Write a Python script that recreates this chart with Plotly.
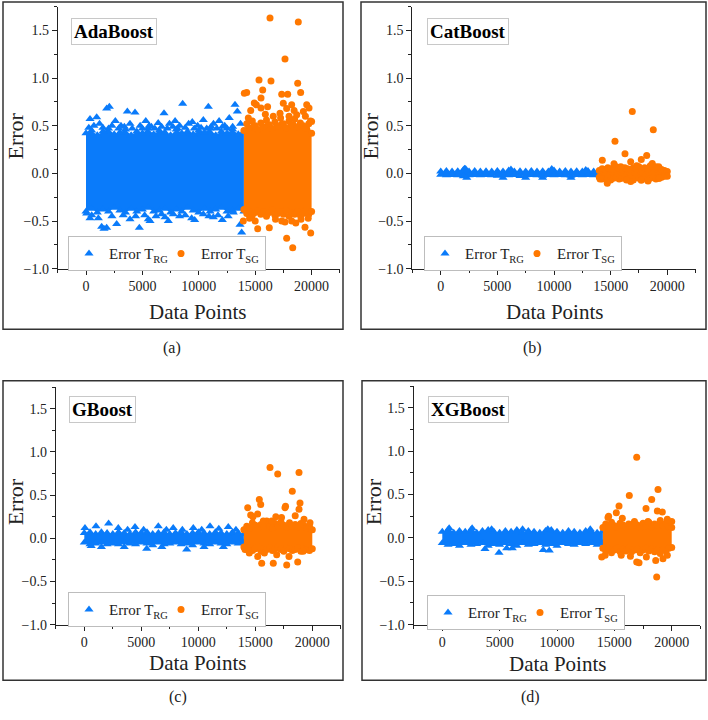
import plotly.graph_objects as go

W, H = 708, 720
BLUE = "#0A7BFA"
ORANGE = "#FF7800"
FONT = "Liberation Serif"

# ---------------- data ----------------
TRG_X = [0, 500, 1000, 1500, 2000, 2500, 3000, 3500, 4000, 4500, 5000, 5500, 6000, 6500,
         7000, 7500, 8000, 8500, 9000, 9500, 10000, 10500, 11000, 11500, 12000, 12500,
         13000, 13500, 14000]
TSG_X = [14000, 14250, 14500, 14750, 15000, 15250, 15500, 15750, 16000, 16250, 16500,
         16750, 17000, 17250, 17500, 17750, 18000, 18250, 18500, 18750, 19000, 19250,
         19500, 19750, 20000]
X_TICKS = [0, 5000, 10000, 15000, 20000]
X_TICK_TEXT = ["0", "5000", "10000", "15000", "20000"]
Y_TICKS = [-1.0, -0.5, 0.0, 0.5, 1.0, 1.5]
Y_TICK_TEXT = ["\u22121.0", "\u22120.5", "0.0", "0.5", "1.0", "1.5"]
MODELS = ["AdaBoost", "CatBoost", "GBoost", "XGBoost"]
CAPTIONS = ["(a)", "(b)", "(c)", "(d)"]
LEGEND_NAMES = ["Error T<sub>RG</sub>", "Error T<sub>SG</sub>"]

# AdaBoost
ADA_TRG_HI = [0.42, 0.45, 0.40, 0.44, 0.47, 0.41, 0.43, 0.46, 0.40, 0.44, 0.42, 0.47, 0.41, 0.45,
              0.43, 0.40, 0.46, 0.42, 0.44, 0.41, 0.45, 0.43, 0.47, 0.40, 0.44, 0.42, 0.46, 0.41, 0.44]
ADA_TRG_LO = [-0.40, -0.37, -0.41, -0.38, -0.40, -0.36, -0.39, -0.41, -0.37, -0.40, -0.38, -0.36,
              -0.40, -0.39, -0.37, -0.41, -0.38, -0.40, -0.36, -0.39, -0.41, -0.37, -0.40, -0.38,
              -0.36, -0.40, -0.39, -0.37, -0.40]
ADA_TRG_OUT_X = [355, 948, 1835, 2070, 1200, 2600, 3100, 3665, 4344, 3900, 4800, 5300, 5800, 6400,
                 6915, 7400, 7900, 8300, 8570, 9100, 9424, 9900, 10400, 10845, 11300, 11800, 12300,
                 12700, 13209, 13416, 13700, 250, 700, 1500, 2300, 2900, 3400, 4100, 5000, 5600,
                 6100, 6700, 7200, 7700, 8100, 8800, 9600, 10200, 10700, 11100, 11600, 12100,
                 12500, 13000,
                 59, 355, 505, 1094, 1389, 1596, 1832, 2300, 2719, 3300, 3900, 4400, 4728, 5200,
                 5526, 5674, 6200, 6700, 7004, 7297, 7742, 8300, 8800, 9368, 9636, 10402, 10900,
                 11288, 11700, 12084, 12600, 13062, 13652, 13800]
ADA_TRG_OUT_Y = [0.57, 0.59, 0.68, 0.70, 0.52, 0.55, 0.50, 0.65, 0.64, 0.52, 0.50, 0.55, 0.49, 0.53,
                 0.63, 0.52, 0.55, 0.50, 0.73, 0.52, 0.54, 0.50, 0.56, 0.70, 0.52, 0.55, 0.50,
                 0.58, 0.72, 0.65, 0.52, 0.48, 0.50, 0.48, 0.50, 0.47, 0.49, 0.47, 0.47, 0.50,
                 0.47, 0.49, 0.47, 0.49, 0.47, 0.48, 0.47, 0.48, 0.47, 0.49, 0.47, 0.49,
                 0.47, 0.49,
                 -0.42, -0.47, -0.44, -0.47, -0.56, -0.58, -0.57, -0.45, -0.53, -0.44, -0.48, -0.45,
                 -0.57, -0.44, -0.48, -0.50, -0.45, -0.43, -0.46, -0.50, -0.43, -0.45, -0.44, -0.47,
                 -0.49, -0.43, -0.45, -0.46, -0.44, -0.49, -0.45, -0.41, -0.54, -0.62]
ADA_TSG_HI = [0.45, 0.52, 0.48, 0.55, 0.50, 0.46, 0.53, 0.49, 0.56, 0.51, 0.47, 0.54, 0.50, 0.58,
              0.52, 0.48, 0.55, 0.51, 0.57, 0.49, 0.53, 0.50, 0.47, 0.52, 0.42]
ADA_TSG_LO = [-0.38, -0.42, -0.40, -0.44, -0.41, -0.39, -0.43, -0.40, -0.45, -0.41, -0.38, -0.44,
              -0.42, -0.40, -0.43, -0.39, -0.45, -0.41, -0.43, -0.40, -0.44, -0.42, -0.39, -0.43,
              -0.40]
ADA_TSG_OUT_X = [16312, 18821, 17642, 15337, 16400, 18767, 14246, 14036, 15665, 17350, 17880, 19030,
                 15514, 14920, 15100, 18234, 19566, 19770, 15514, 17490, 17790, 18680, 19270, 14390,
                 15900, 16600, 17200, 18000, 19900, 20000, 14600, 16100, 18450, 19450,
                 13945, 15220, 15576, 15600, 16250, 17790, 18325, 19415, 19920, 17350, 17640,
                 18234, 19060, 14500, 15000, 16800, 18600, 19700]
ADA_TSG_OUT_Y = [1.63, 1.59, 1.20, 0.98, 0.97, 0.945, 0.85, 0.84, 0.875, 0.83, 0.83, 0.85,
                 0.79, 0.74, 0.72, 0.72, 0.72, 0.685, 0.685, 0.735, 0.68, 0.615, 0.65, 0.58,
                 0.62, 0.60, 0.63, 0.60, 0.55, 0.545, 0.66, 0.70, 0.66, 0.60,
                 -0.50, -0.58, -0.71, -0.73, -0.57, -0.68, -0.78, -0.565, -0.625, -0.50, -0.51,
                 -0.50, -0.48, -0.47, -0.50, -0.48, -0.52, -0.47]

# CatBoost
CAT_TRG_HI = [0.020, 0.025, 0.020, 0.022, 0.035, 0.020, 0.025, 0.020, 0.022, 0.020, 0.025, 0.020,
              0.030, 0.020, 0.022, 0.020, 0.025, 0.020, 0.022, 0.020, 0.030, 0.020, 0.025, 0.020,
              0.022, 0.020, 0.025, 0.020, 0.022]
CAT_TRG_LO = [-0.015, -0.020, -0.018, -0.020, -0.030, -0.020, -0.018, -0.020, -0.018, -0.020,
              -0.025, -0.018, -0.020, -0.018, -0.028, -0.020, -0.018, -0.020, -0.025, -0.018,
              -0.020, -0.018, -0.020, -0.025, -0.018, -0.020, -0.018, -0.020, -0.018]
CAT_TRG_OUT_X = [2100, 2200, 6200, 9800, 12800, 2300, 5500, 7500, 9000, 11500]
CAT_TRG_OUT_Y = [0.05, 0.045, 0.04, 0.045, 0.035, -0.045, -0.045, -0.045, -0.045, -0.045]
CAT_TSG_HI = [0.03, 0.05, 0.04, 0.06, 0.05, 0.04, 0.07, 0.05, 0.04, 0.06, 0.05, 0.04, 0.06, 0.05,
              0.07, 0.04, 0.06, 0.05, 0.08, 0.06, 0.05, 0.07, 0.04, 0.03, 0.02]
CAT_TSG_LO = [-0.04, -0.06, -0.05, -0.04, -0.07, -0.05, -0.04, -0.06, -0.05, -0.04, -0.06, -0.05,
              -0.07, -0.04, -0.05, -0.06, -0.04, -0.07, -0.05, -0.04, -0.06, -0.05, -0.04, -0.03,
              -0.03]
CAT_TSG_OUT_X = [16911, 18765, 15384, 16267, 16770, 18182, 17705, 14265, 15296, 18677, 14705, 14064,
                 16770, 17705, 19300, 15900, 17300, 19000, 16400, 18300]
CAT_TSG_OUT_Y = [0.65, 0.458, 0.337, 0.205, 0.122, 0.188, 0.146, 0.139, 0.10, 0.104, -0.104, -0.06,
                 -0.086, -0.073, -0.05, 0.07, 0.08, 0.07, -0.07, -0.08]

# GBoost
GB_TRG_HI = [0.06, 0.07, 0.05, 0.07, 0.06, 0.05, 0.07, 0.06, 0.05, 0.07, 0.06, 0.07, 0.05, 0.06,
             0.07, 0.05, 0.06, 0.07, 0.05, 0.06, 0.07, 0.06, 0.05, 0.07, 0.06, 0.05, 0.07, 0.06, 0.05]
GB_TRG_LO = [-0.05, -0.07, -0.06, -0.05, -0.07, -0.06, -0.07, -0.05, -0.06, -0.07, -0.05, -0.06,
             -0.08, -0.05, -0.07, -0.06, -0.05, -0.07, -0.06, -0.08, -0.05, -0.06, -0.07, -0.05,
             -0.06, -0.07, -0.05, -0.06, -0.05]
GB_TRG_OUT_X = [60, 1026, 2132, 2982, 3800, 4447, 5200, 6491, 7200, 7800, 8600, 9561, 10300, 11026,
                11800, 12632, 13300, 5474, 8982, 1500, 3500, 6800, 10500, 12200, 600]
GB_TRG_OUT_Y = [0.12, 0.14, 0.17, 0.12, 0.10, 0.13, 0.10, 0.14, 0.10, 0.12, 0.10, 0.12, 0.10, 0.14,
                0.11, 0.13, 0.10, -0.12, -0.13, -0.10, -0.10, -0.10, -0.10, -0.10, -0.09]
GB_TSG_HI = [0.10, 0.14, 0.12, 0.18, 0.15, 0.12, 0.16, 0.13, 0.20, 0.14, 0.12, 0.17, 0.14, 0.19,
             0.15, 0.13, 0.18, 0.14, 0.16, 0.13, 0.17, 0.15, 0.12, 0.14, 0.10]
GB_TSG_LO = [-0.10, -0.13, -0.11, -0.14, -0.12, -0.10, -0.15, -0.12, -0.13, -0.11, -0.14, -0.12,
             -0.10, -0.13, -0.15, -0.11, -0.12, -0.14, -0.13, -0.11, -0.15, -0.12, -0.13, -0.14,
             -0.12]
GB_TSG_OUT_X = [16290, 16965, 18833, 18246, 15351, 15474, 14333, 18921, 17605, 17650, 18833, 14596,
                15702, 16439, 19272, 19798, 14800, 15200, 16800, 17300, 18500,
                14474, 15211, 15561, 16579, 17754, 17956, 18719, 16877, 19200, 15800, 14100]
GB_TSG_OUT_Y = [0.82, 0.744, 0.763, 0.545, 0.45, 0.39, 0.355, 0.41, 0.355, 0.37, 0.335, 0.27,
                0.20, 0.20, 0.22, 0.18, 0.25, 0.28, 0.25, 0.24, 0.26,
                -0.17, -0.21, -0.29, -0.29, -0.31, -0.21, -0.275, -0.19, -0.15, -0.17, -0.13]

# XGBoost
XG_TRG_HI = [0.07, 0.09, 0.06, 0.08, 0.07, 0.09, 0.06, 0.08, 0.09, 0.07, 0.06, 0.08, 0.07, 0.09,
             0.06, 0.08, 0.07, 0.06, 0.08, 0.09, 0.07, 0.06, 0.08, 0.07, 0.06, 0.08, 0.07, 0.06, 0.08]
XG_TRG_LO = [-0.06, -0.08, -0.07, -0.09, -0.06, -0.08, -0.07, -0.06, -0.09, -0.07, -0.08, -0.06,
             -0.07, -0.09, -0.06, -0.08, -0.07, -0.06, -0.08, -0.07, -0.09, -0.06, -0.07, -0.08,
             -0.06, -0.07, -0.06, -0.08, -0.06]
XG_TRG_OUT_X = [3723, 4944, 5614, 6100, 8805, 9328, 600, 2600, 4300, 7000, 9200, 12900]
XG_TRG_OUT_Y = [-0.127, -0.17, -0.12, -0.12, -0.14, -0.145, 0.11, 0.11, 0.10, 0.10, 0.10, 0.10]
XG_TSG_HI = [0.12, 0.16, 0.13, 0.18, 0.14, 0.12, 0.17, 0.15, 0.13, 0.16, 0.14, 0.19, 0.15, 0.12,
             0.17, 0.14, 0.18, 0.13, 0.16, 0.15, 0.20, 0.14, 0.17, 0.13, 0.12]
XG_TSG_LO = [-0.12, -0.15, -0.13, -0.17, -0.14, -0.12, -0.16, -0.13, -0.15, -0.12, -0.16, -0.14,
             -0.13, -0.17, -0.14, -0.12, -0.15, -0.13, -0.16, -0.14, -0.18, -0.13, -0.15, -0.12,
             -0.11]
XG_TSG_OUT_X = [16948, 18806, 16303, 18256, 15405, 17760, 15170, 18746, 19180, 15693, 14446, 19616,
                20000, 17930, 14500,
                13897, 14200, 16948, 17150, 17790, 18605, 19237, 18690, 19616, 15600, 16400]
XG_TSG_OUT_Y = [0.93, 0.557, 0.49, 0.443, 0.367, 0.34, 0.29, 0.31, 0.30, 0.227, 0.235, 0.215,
                0.19, 0.19, 0.25,
                -0.22, -0.20, -0.278, -0.285, -0.22, -0.26, -0.24, -0.45, -0.2, -0.20, -0.21]

PANEL_DATA = [
    (ADA_TRG_HI, ADA_TRG_LO, ADA_TRG_OUT_X, ADA_TRG_OUT_Y, ADA_TSG_HI, ADA_TSG_LO, ADA_TSG_OUT_X, ADA_TSG_OUT_Y),
    (CAT_TRG_HI, CAT_TRG_LO, CAT_TRG_OUT_X, CAT_TRG_OUT_Y, CAT_TSG_HI, CAT_TSG_LO, CAT_TSG_OUT_X, CAT_TSG_OUT_Y),
    (GB_TRG_HI, GB_TRG_LO, GB_TRG_OUT_X, GB_TRG_OUT_Y, GB_TSG_HI, GB_TSG_LO, GB_TSG_OUT_X, GB_TSG_OUT_Y),
    (XG_TRG_HI, XG_TRG_LO, XG_TRG_OUT_X, XG_TRG_OUT_Y, XG_TSG_HI, XG_TSG_LO, XG_TSG_OUT_X, XG_TSG_OUT_Y),
]

# ---------------- layout (pixels) ----------------
# plot area: left, right, top, bottom
PLOT_PX = [(57.8, 339.8, 6.7, 271.7), (412.4, 695.6, 6.7, 271.7),
           (55.8, 340.8, 391.5, 631.7), (413.6, 700.4, 390.4, 631.7)]
BOX_PX = [(3, 343, 2, 333), (361, 706, 2, 333), (3, 343, 385, 688), (362, 706, 385, 688)]
TITLE_PX = [(71, 18), (427, 18), (69, 400), (428, 400)]
LEGEND_PX = [(68, 239), (424, 239), (68, 599), (427, 602)]
YTITLE_PX = [(15, 138), (370, 138), (15, 508), (373, 508)]
XTITLE_PX = [(198, 315), (554, 315), (198, 670), (557, 671)]
CAPTION_PX = [(172, 352), (532, 352), (178, 705), (530, 705)]


def px(x):
    return x / W


def py(y):
    return 1 - y / H


fig = go.Figure()
shapes, annotations = [], []
layout_axes = {}

for i in range(4):
    trg_hi, trg_lo, trg_ox, trg_oy, tsg_hi, tsg_lo, tsg_ox, tsg_oy = PANEL_DATA[i]
    n = i + 1
    xa = "x" if n == 1 else f"x{n}"
    ya = "y" if n == 1 else f"y{n}"
    lg = "legend" if n == 1 else f"legend{n}"

    # training band
    fig.add_trace(go.Scatter(
        x=TRG_X + TRG_X[::-1], y=trg_hi + trg_lo[::-1], mode="lines", fill="toself",
        fillcolor=BLUE, line=dict(width=0, color=BLUE), showlegend=False, hoverinfo="skip",
        xaxis=xa, yaxis=ya))
    fig.add_trace(go.Scatter(
        x=TRG_X + TRG_X, y=trg_hi + trg_lo, mode="markers",
        marker=dict(symbol="triangle-up", size=8, color=BLUE), showlegend=False,
        xaxis=xa, yaxis=ya))
    fig.add_trace(go.Scatter(
        x=trg_ox, y=trg_oy, mode="markers", name=LEGEND_NAMES[0], legendwidth=47,
        marker=dict(symbol="triangle-up", size=8, color=BLUE), legend=lg,
        xaxis=xa, yaxis=ya))
    # testing band
    fig.add_trace(go.Scatter(
        x=TSG_X + TSG_X[::-1], y=tsg_hi + tsg_lo[::-1], mode="lines", fill="toself",
        fillcolor=ORANGE, line=dict(width=0, color=ORANGE), showlegend=False, hoverinfo="skip",
        xaxis=xa, yaxis=ya))
    fig.add_trace(go.Scatter(
        x=TSG_X + TSG_X, y=tsg_hi + tsg_lo, mode="markers",
        marker=dict(symbol="circle", size=7, color=ORANGE), showlegend=False,
        xaxis=xa, yaxis=ya))
    fig.add_trace(go.Scatter(
        x=tsg_ox, y=tsg_oy, mode="markers", name=LEGEND_NAMES[1],
        marker=dict(symbol="circle", size=7, color=ORANGE), legend=lg,
        xaxis=xa, yaxis=ya))

    l, r, t, b = PLOT_PX[i]
    xkey = "xaxis" if n == 1 else f"xaxis{n}"
    ykey = "yaxis" if n == 1 else f"yaxis{n}"
    layout_axes[xkey] = dict(
        domain=[px(l), px(r)], anchor=ya, range=[-2500, 22500],
        tickvals=X_TICKS, ticktext=X_TICK_TEXT, ticks="outside", ticklen=5, tickwidth=1,
        tickcolor="#222",
        minor=dict(dtick=2500, tick0=0, ticks="outside", ticklen=3, tickcolor="#222"),
        showline=True, linecolor="#222", linewidth=1, showgrid=False, zeroline=False,
        tickfont=dict(family=FONT, size=14, color="#222"))
    layout_axes[ykey] = dict(
        domain=[py(b), py(t)], anchor=xa, range=[-1.0, 1.75],
        tickvals=Y_TICKS, ticktext=Y_TICK_TEXT, ticks="outside", ticklen=5, tickwidth=1,
        tickcolor="#222",
        minor=dict(dtick=0.25, tick0=0, ticks="outside", ticklen=3, tickcolor="#222"),
        showline=True, linecolor="#222", linewidth=1, showgrid=False, zeroline=False,
        tickfont=dict(family=FONT, size=14, color="#222"))

    lx, ly = LEGEND_PX[i]
    layout_axes[lg] = dict(
        x=px(lx), y=py(ly), xanchor="left", yanchor="top", orientation="h",
        bordercolor="#bdbdbd", borderwidth=1, bgcolor="white",
        font=dict(family=FONT, size=15, color="#222"), itemwidth=30,
        tracegroupgap=0)

    bx0, bx1, by0, by1 = BOX_PX[i]
    shapes.append(dict(type="rect", xref="paper", yref="paper", x0=px(bx0), x1=px(bx1),
                       y0=py(by1), y1=py(by0), line=dict(color="#333", width=1.5)))

    tx, ty = TITLE_PX[i]
    annotations.append(dict(
        text=f"<b>{MODELS[i]}</b>", x=px(tx), y=py(ty), xref="paper", yref="paper",
        xanchor="left", yanchor="top", showarrow=False, bgcolor="white",
        bordercolor="#c8c8c8", borderwidth=1, borderpad=2,
        font=dict(family=FONT, size=19, color="black")))
    yx, yy = YTITLE_PX[i]
    annotations.append(dict(
        text="Error", x=px(yx), y=py(yy), xref="paper", yref="paper", textangle=-90,
        xanchor="center", yanchor="middle",
        showarrow=False, font=dict(family=FONT, size=22, color="#222")))
    xx, xy = XTITLE_PX[i]
    annotations.append(dict(
        text="Data Points", x=px(xx), y=py(xy), xref="paper", yref="paper",
        xanchor="center", yanchor="middle",
        showarrow=False, font=dict(family=FONT, size=21, color="#222")))
    cx, cy = CAPTION_PX[i]
    annotations.append(dict(
        text=CAPTIONS[i], x=px(cx), y=py(cy), xref="paper", yref="paper",
        xanchor="center", yanchor="middle",
        showarrow=False, font=dict(family=FONT, size=16, color="#222")))

fig.update_layout(
    width=W, height=H, margin=dict(l=0, r=0, t=0, b=0),
    paper_bgcolor="white", plot_bgcolor="white",
    shapes=shapes, annotations=annotations, **layout_axes)

fig.write_html("out.html")
